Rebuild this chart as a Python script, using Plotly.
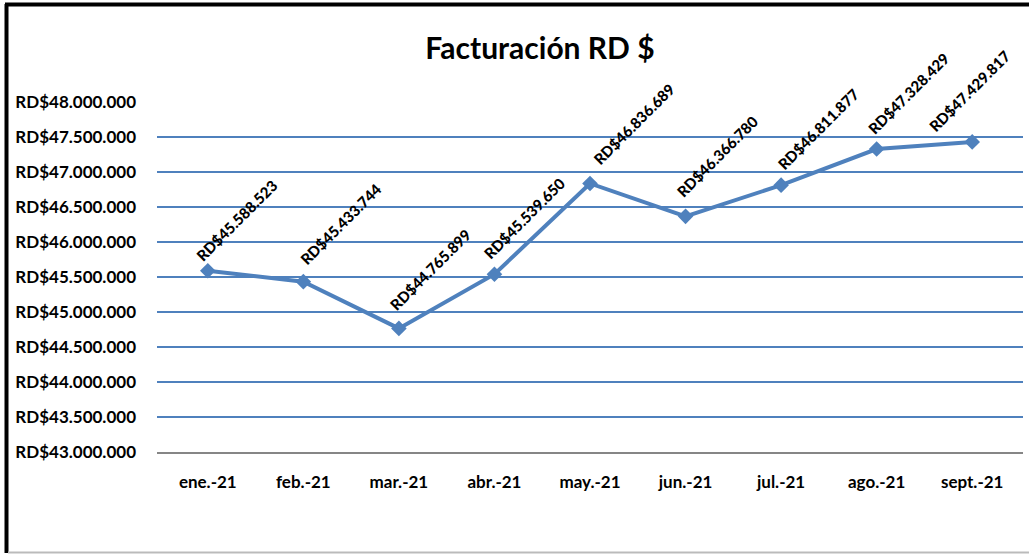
import plotly.graph_objects as go

months = ["ene.-21", "feb.-21", "mar.-21", "abr.-21", "may.-21",
          "jun.-21", "jul.-21", "ago.-21", "sept.-21"]
facturacion = [45588523, 45433744, 44765899, 45539650, 46836689,
               46366780, 46811877, 47328429, 47429817]
y_ticks = [43000000, 43500000, 44000000, 44500000, 45000000,
           45500000, 46000000, 46500000, 47000000, 47500000, 48000000]
title_text = "Facturación RD $"

# per-label pixel nudges (style only)
label_dx = [-2, 6, 1, -1, 13, 1, 6, 1, -34]
label_dy = [6, -1, -2, 1, -2, -3, 1, 1, 6]

def fmt(v):
    return "RD$" + f"{v:,.0f}".replace(",", ".")

BLUE = "#4F81BD"
FONT = "Lato"

fig = go.Figure()
fig.add_trace(go.Scatter(
    x=months, y=facturacion, mode="lines+markers",
    line=dict(color=BLUE, width=4),
    marker=dict(symbol="diamond", size=12, color=BLUE),
    showlegend=False, hoverinfo="skip",
))

for m, v, dx, dy in zip(months, facturacion, label_dx, label_dy):
    fig.add_annotation(
        x=m, y=v, text=fmt(v), textangle=-45, showarrow=False,
        xanchor="left", yanchor="bottom", xshift=-16 + dx, yshift=10 - dy,
        font=dict(family=FONT, size=15, color="black", weight=900),
    )

fig.update_layout(
    width=1029, height=554,
    margin=dict(l=157, r=6, t=102, b=102),
    paper_bgcolor="white", plot_bgcolor="white",
    title=dict(text=title_text, x=540/1029, xref="container", xanchor="center",
               y=1-48/554, yref="container", yanchor="middle",
               font=dict(family=FONT, size=30, color="black", weight="bold")),
    xaxis=dict(showgrid=False, showline=True, linecolor="#868686", linewidth=2,
               ticks="", tickfont=dict(family=FONT, size=17, color="black", weight="bold"),
               ticklabelstandoff=14, fixedrange=True),
    yaxis=dict(range=[43000000, 48000000], tickvals=y_ticks,
               ticktext=[fmt(t) for t in y_ticks],
               showgrid=True, gridcolor=BLUE, gridwidth=1.5, zeroline=False,
               showline=False, ticks="",
               tickfont=dict(family=FONT, size=17, color="black", weight="bold"),
               ticklabelstandoff=20, fixedrange=True),
    shapes=[
        dict(type="line", xref="paper", yref="paper",
             x0=(6.5-157)/866, x1=(6.5-157)/866, y0=(452-553)/350, y1=(452-4)/350,
             line=dict(color="black", width=4)),
        dict(type="line", xref="paper", yref="paper",
             x0=(5-157)/866, x1=(1029-157)/866, y0=(452-4.5)/350, y1=(452-4.5)/350,
             line=dict(color="black", width=4)),
        dict(type="line", xref="paper", yref="paper",
             x0=(8-157)/866, x1=(1029-157)/866, y0=(452-552.5)/350, y1=(452-552.5)/350,
             line=dict(color="#BBBBBB", width=2)),
    ],
)

fig.write_html("out.html", config={"displayModeBar": False},
               post_script="document.body.style.margin='0';document.body.style.overflow='hidden';")
